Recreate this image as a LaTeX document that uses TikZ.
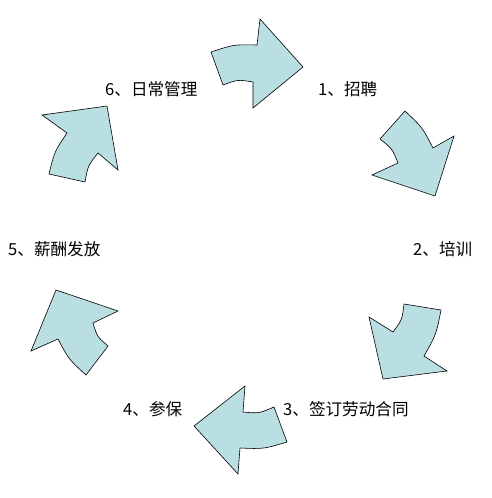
\documentclass[tikz,border=0pt]{standalone}
\usepackage{fontspec}
\setmainfont{Noto Sans CJK SC}
\usetikzlibrary{calc}
\definecolor{arrowfill}{RGB}{185,223,227}
\tikzset{
  blockarrow/.style={draw=black, line width=0.6pt, fill=arrowfill, line join=miter},
  lbl/.style={anchor=west, inner sep=0pt, font=\fontsize{16.6}{19}\selectfont},
}
\begin{document}
\begin{tikzpicture}[x=1pt,y=-1pt]
\useasboundingbox (0,0) rectangle (491,498);
\coordinate (O) at (245,248);
% arrow 1 (top)
\draw[blockarrow] (211,52) .. controls ($($(211,52)!0.5!(257,45)$)!-4pt!(O)$) .. (257,45)
  -- (260,19) -- (303,67) -- (253,108) -- (253,82)
  .. controls ($($(253,82)!0.5!(223,85)$)!-4pt!(O)$) .. (223,85) -- cycle;
% arrow 2 (upper right)
\draw[blockarrow] (405,111) .. controls ($($(405,111)!0.5!(433,148)$)!-4pt!(O)$) .. (433,148)
  -- (454,136) -- (435,196) -- (372,175) -- (398,163)
  .. controls ($($(398,163)!0.5!(380,139)$)!-4pt!(O)$) .. (380,139) -- cycle;
% arrow 3 (lower right)
\draw[blockarrow] (404,304) -- (441,310)
  .. controls ($($(441,310)!0.5!(424,356)$)!-4pt!(O)$) .. (424,356)
  -- (447,371) -- (383,379) -- (369,317) -- (393,332)
  .. controls ($($(393,332)!0.5!(404,304)$)!-4pt!(O)$) .. (404,304) -- cycle;
% arrow 4 (bottom)
\draw[blockarrow] (245,386) -- (243,412)
  .. controls ($($(243,412)!0.5!(274,407)$)!-4pt!(O)$) .. (274,407)
  -- (287,442)
  .. controls ($($(287,442)!0.5!(240,448)$)!-4pt!(O)$) .. (240,448)
  -- (238,474) -- (194,426) -- cycle;
% arrow 5 (lower left)
\draw[blockarrow] (56,290) -- (118,311) -- (93,323)
  .. controls ($($(93,323)!0.5!(108,346)$)!-4pt!(O)$) .. (108,346)
  -- (86,375)
  .. controls ($($(86,375)!0.5!(58,339)$)!-4pt!(O)$) .. (58,339)
  -- (31,351) -- cycle;
% arrow 6 (upper left)
\draw[blockarrow] (42,115) -- (107,106) -- (118,170) -- (98,153)
  .. controls ($($(98,153)!0.5!(85,182)$)!-4pt!(O)$) .. (85,182)
  -- (49,174)
  .. controls ($($(49,174)!0.5!(67,133)$)!-4pt!(O)$) .. (67,133) -- cycle;
% labels
\node[lbl] (l1) at (318,89) {1、招聘};
\node[lbl] (l2) at (413,249) {2、培训};
\node[lbl] (l3) at (283,409) {3、签订劳动合同};
\node[lbl] (l4) at (123,409) {4、参保};
\node[lbl] (l5) at (8,249) {5、薪酬发放};
\node[lbl] (l6) at (105,89) {6、日常管理};
\end{tikzpicture}
\end{document}
